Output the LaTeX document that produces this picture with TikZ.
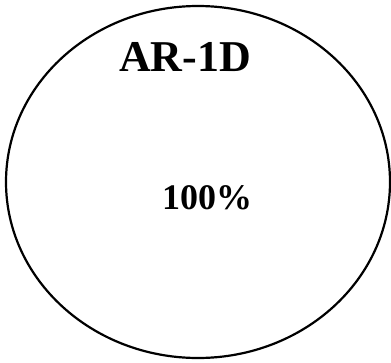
\documentclass[tikz,border=0pt]{standalone}
\usepackage{fontspec}
\setmainfont{Liberation Serif}
\usetikzlibrary{shapes.geometric}
\tikzset{
  outline/.style={draw=black, line width=2.2pt},
  label/.style={inner sep=0pt, font=\bfseries\fontsize{44}{48}\selectfont},
  value/.style={inner sep=0pt, font=\bfseries\fontsize{36}{40}\selectfont}
}
\begin{document}
\begin{tikzpicture}[x=1pt,y=-1pt]
\useasboundingbox (0,0) rectangle (391,362);
\node[outline, ellipse, minimum width=384pt, minimum height=352pt, inner sep=0pt] (e) at (198,182) {};
\node[label] (t) at (185,57) {AR-1D};
\node[value] (v) at (207,198) {100\%};
\end{tikzpicture}
\end{document}
